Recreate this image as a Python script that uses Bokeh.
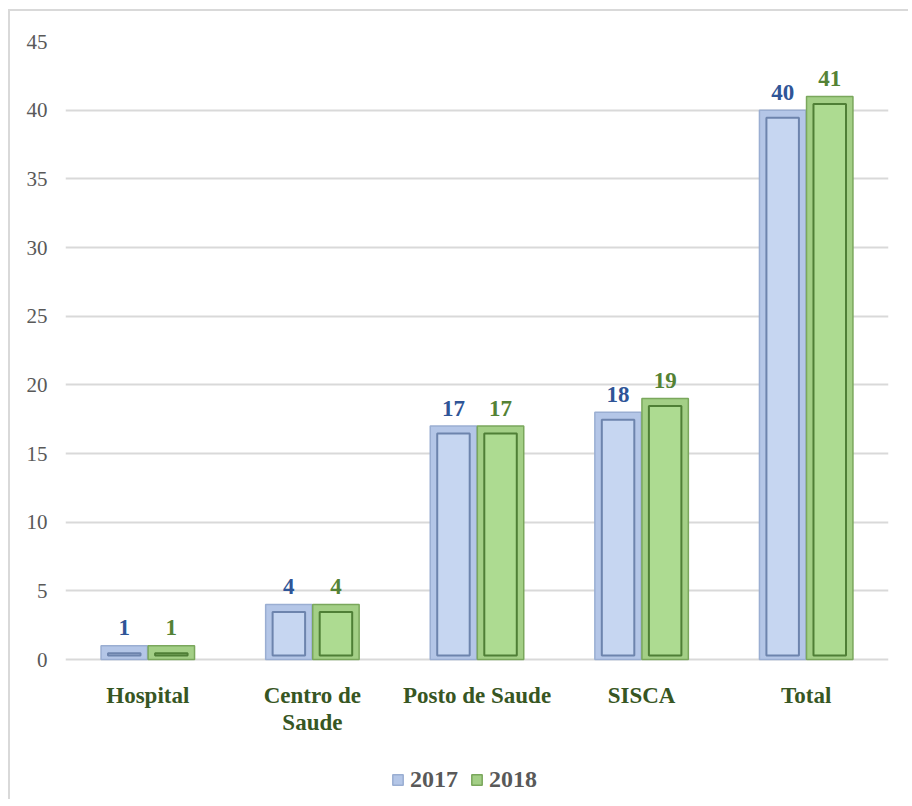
from bokeh.plotting import figure
from bokeh.models import ColumnDataSource, FactorRange, Range1d, Legend, LegendItem, FixedTicker
from bokeh.transform import dodge
from bokeh.core.properties import value
from bokeh.embed import file_html
from bokeh.resources import INLINE

categories = ["Hospital", "Centro de\nSaude", "Posto de Saude", "SISCA", "Total"]
values_2017 = [1, 4, 17, 18, 40]
values_2018 = [1, 4, 17, 19, 41]
series_names = ["2017", "2018"]
y_ticks = [0, 5, 10, 15, 20, 25, 30, 35, 40, 45]
y_max = 45

FONT = "Liberation Serif"
BAR_W = 0.282
OFF = 0.143

# layout (pixels)
W, H = 900, 790
TOP, LEFT, RIGHT = 30, 55, 22
PLOT_H = 618  # pixels from 0 to y_max
frame_h = H - TOP
y_min = y_max - frame_h * y_max / PLOT_H  # extend frame down to host labels + legend

src = ColumnDataSource(dict(
    cat=categories,
    v17=values_2017,
    v18=values_2018,
    i17=[max(v - 0.55, 0.3) for v in values_2017],
    i18=[max(v - 0.55, 0.3) for v in values_2018],
    t17=[str(v) for v in values_2017],
    t18=[str(v) for v in values_2018],
    base=[0] * len(categories),
))

p = figure(width=W, height=H, x_range=FactorRange(*categories),
           y_range=Range1d(y_min, y_max), output_backend="svg", toolbar_location=None,
           x_axis_location=None,
           min_border_left=LEFT, min_border_right=RIGHT, min_border_top=TOP,
           min_border_bottom=0)
p.styles = {"border-left": "2px solid #d9d9d9", "border-top": "2px solid #d9d9d9",
            "margin-left": "8px", "margin-top": "9px"}
p.outline_line_color = None
p.background_fill_color = "white"
p.border_fill_color = "white"

# grid
p.xgrid.grid_line_color = None
p.ygrid.grid_line_color = "#d9d9d9"
p.ygrid.grid_line_width = 2
p.yaxis.ticker = FixedTicker(ticks=y_ticks)

# y axis
p.yaxis.axis_line_color = None
p.yaxis.major_tick_line_color = None
p.yaxis.minor_tick_line_color = None
p.yaxis.major_tick_out = 0
p.yaxis.minor_tick_out = 0
p.yaxis.major_label_standoff = 18
p.yaxis.major_label_text_font = FONT
p.yaxis.major_label_text_font_size = "21px"
p.yaxis.major_label_text_color = "#595959"

# bars 2017 (bevelled look with layered rects)
r17 = p.vbar(x=dodge("cat", -OFF, range=p.x_range), top="v17", width=BAR_W, source=src,
             fill_color="#b4c6e7", line_color="#9aaed2", line_width=1.5)
p.vbar(x=dodge("cat", -OFF, range=p.x_range), top="i17", bottom=0.3, width=BAR_W * 0.7,
       source=src, fill_color="#c6d6f1", line_color="#6d84ad", line_width=2)

# bars 2018
r18 = p.vbar(x=dodge("cat", OFF, range=p.x_range), top="v18", width=BAR_W, source=src,
             fill_color="#a3cf86", line_color="#7aa75c", line_width=1.5)
p.vbar(x=dodge("cat", OFF, range=p.x_range), top="i18", bottom=0.3, width=BAR_W * 0.7,
       source=src, fill_color="#addb91", line_color="#4f7f36", line_width=2)

# value labels
p.text(x=dodge("cat", -OFF, range=p.x_range), y="v17", text="t17", source=src,
       text_font=value(FONT), text_font_size="23px", text_font_style="bold",
       text_color="#2f5597", text_align="center", text_baseline="alphabetic", y_offset=-18)
p.text(x=dodge("cat", OFF, range=p.x_range), y="v18", text="t18", source=src,
       text_font=value(FONT), text_font_size="23px", text_font_style="bold",
       text_color="#548235", text_align="center", text_baseline="alphabetic", y_offset=-18)

# category labels (x axis)
p.text(x="cat", y="base", text="cat", source=src,
       text_font=value(FONT), text_font_size="23px", text_font_style="bold",
       text_color="#375623", text_align="center", text_baseline="top",
       text_line_height=1.1, y_offset=23)

legend = Legend(items=[LegendItem(label=series_names[0], renderers=[r17]),
                       LegendItem(label=series_names[1], renderers=[r18])],
                orientation="horizontal", location=(326, 8),
                label_text_font=FONT, label_text_font_size="24px",
                label_text_font_style="bold", label_text_color="#595959",
                glyph_width=13, glyph_height=13, label_standoff=6, spacing=12,
                padding=0, margin=0, border_line_color=None,
                background_fill_alpha=0)
p.add_layout(legend, "center")

open("out.html", "w").write(file_html(p, INLINE))
